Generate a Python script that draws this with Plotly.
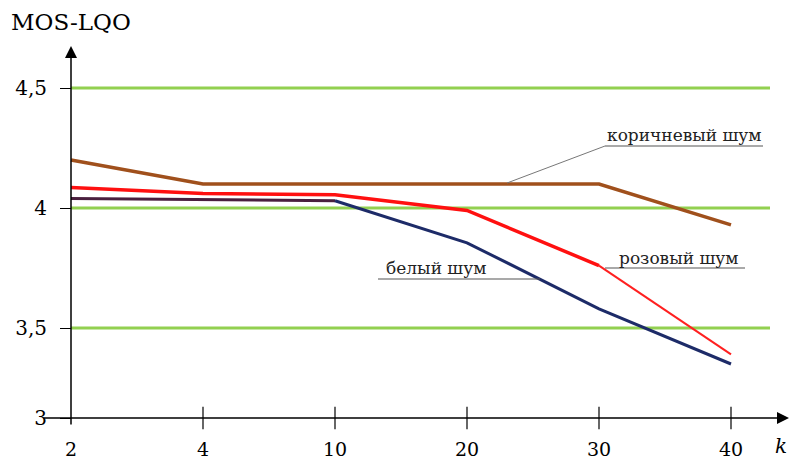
import plotly.graph_objects as go

# ---- data ----
categories = ["2", "4", "10", "20", "30", "40"]
brown_noise = [4.20, 4.10, 4.10, 4.10, 4.10, 3.93]
pink_noise = [4.085, 4.06, 4.055, 3.99, 3.76, 3.39]
white_noise = [4.04, 4.035, 4.03, 3.855, 3.58, 3.35]
grid_values = [3.5, 4.0, 4.5]
y_tickvals = [3.125, 3.5, 4.0, 4.5]
y_ticktext = ["3", "3,5", "4", "4,5"]
label_brown = "коричневый шум"
label_pink = "розовый шум"
label_white = "белый шум"
y_title = "MOS-LQO"
x_title = "k"

W, H = 790, 459
FONT = "DejaVu Serif"
# axis scales (pixels in window coordinates)
X0PX, XSTEP = 71, 132.0
Y4PX, YUNIT = 208, 240.0


def px(x):
    return x / W


def py(y):
    return 1 - y / H


def xv(x):
    return (x - X0PX) / XSTEP


def yv(y):
    return 4 - (y - Y4PX) / YUNIT


xr = [xv(0), xv(W)]
yr = [yv(H), yv(0)]

fig = go.Figure()

for g in grid_values:
    fig.add_shape(type="line", xref="x", yref="y", x0=0, x1=xv(770), y0=g, y1=g,
                  line=dict(color="#92d050", width=3), layer="below")

fig.add_trace(go.Scatter(x=categories, y=brown_noise, mode="lines",
                         line=dict(color="#a0501c", width=3.5), hoverinfo="skip"))
fig.add_trace(go.Scatter(x=categories[:3], y=white_noise[:3], mode="lines",
                         line=dict(color="#4a1f3e", width=3), hoverinfo="skip"))
fig.add_trace(go.Scatter(x=categories[2:], y=white_noise[2:], mode="lines",
                         line=dict(color="#1d2b68", width=3), hoverinfo="skip"))
fig.add_trace(go.Scatter(x=categories[:5], y=pink_noise[:5], mode="lines",
                         line=dict(color="#ff1010", width=3.5), hoverinfo="skip"))
fig.add_trace(go.Scatter(x=categories[4:], y=pink_noise[4:], mode="lines",
                         line=dict(color="#ff2020", width=2), hoverinfo="skip"))

# x tick marks crossing the axis
fig.add_trace(go.Scatter(x=categories[1:], y=[y_tickvals[0]] * (len(categories) - 1),
                         mode="markers", cliponaxis=False, hoverinfo="skip",
                         marker=dict(symbol="line-ns-open", size=16, color="black",
                                     line=dict(color="black", width=1.2))))

# axes with arrows
fig.add_annotation(x=0, y=yv(46), xref="x", yref="y", ax=0, ay=426 - 46,
                   showarrow=True, arrowhead=2, arrowsize=1.6, arrowwidth=1.5,
                   arrowcolor="black", text="")
fig.add_annotation(x=xv(789), y=y_tickvals[0], xref="x", yref="y", ax=-(789 - 42), ay=0,
                   showarrow=True, arrowhead=2, arrowsize=1.6, arrowwidth=1.5,
                   arrowcolor="black", text="")

# axis titles
fig.add_annotation(x=px(9), y=py(22), xref="paper", yref="paper", text=y_title,
                   showarrow=False, xanchor="left", yanchor="middle",
                   font=dict(family=FONT, size=23, color="black"))
fig.add_annotation(x=px(789), y=py(446), xref="paper", yref="paper",
                   text="<i>" + x_title + "</i>", showarrow=False,
                   xanchor="right", yanchor="middle",
                   font=dict(family=FONT, size=20, color="black"))

# series labels with underline and leader lines
labels = [
    (label_brown, 605, 135, 605, 763, 146, (605, 146, 507, 183)),
    (label_pink, 617, 258, 605, 745, 268, None),
    (label_white, 384, 268, 378, 540, 279, None),
]
for txt, tx, ty, ux0, ux1, uy, leader in labels:
    fig.add_annotation(x=px(tx), y=py(ty), xref="paper", yref="paper", text=txt,
                       showarrow=False, xanchor="left", yanchor="middle",
                       font=dict(family=FONT, size=17, color="#222222"))
    fig.add_shape(type="line", xref="paper", yref="paper", x0=px(ux0), x1=px(ux1),
                  y0=py(uy), y1=py(uy), line=dict(color="#555555", width=1.2))
    if leader:
        fig.add_shape(type="line", xref="paper", yref="paper", x0=px(leader[0]),
                      y0=py(leader[1]), x1=px(leader[2]), y1=py(leader[3]),
                      line=dict(color="#777777", width=1))

fig.update_layout(
    width=W, height=H, margin=dict(l=0, r=0, t=0, b=0),
    paper_bgcolor="white", plot_bgcolor="white", showlegend=False,
    xaxis=dict(type="category", categoryorder="array", categoryarray=categories,
               range=xr, showgrid=False, zeroline=False, showline=False,
               anchor="free", position=py(418), ticks="", automargin=False,
               ticklabelstandoff=18,
               tickfont=dict(family=FONT, size=19, color="black")),
    yaxis=dict(range=yr, showgrid=False, zeroline=False, showline=False,
               anchor="free", position=px(X0PX), ticks="outside", ticklen=11,
               tickcolor="black", tickwidth=1.2, automargin=False,
               tickvals=y_tickvals, ticktext=y_ticktext, ticklabelstandoff=9,
               tickfont=dict(family=FONT, size=20, color="black")),
)

fig.write_html("out.html", config={"displayModeBar": False},
               post_script="document.body.style.margin='0';document.body.style.overflow='hidden';")
